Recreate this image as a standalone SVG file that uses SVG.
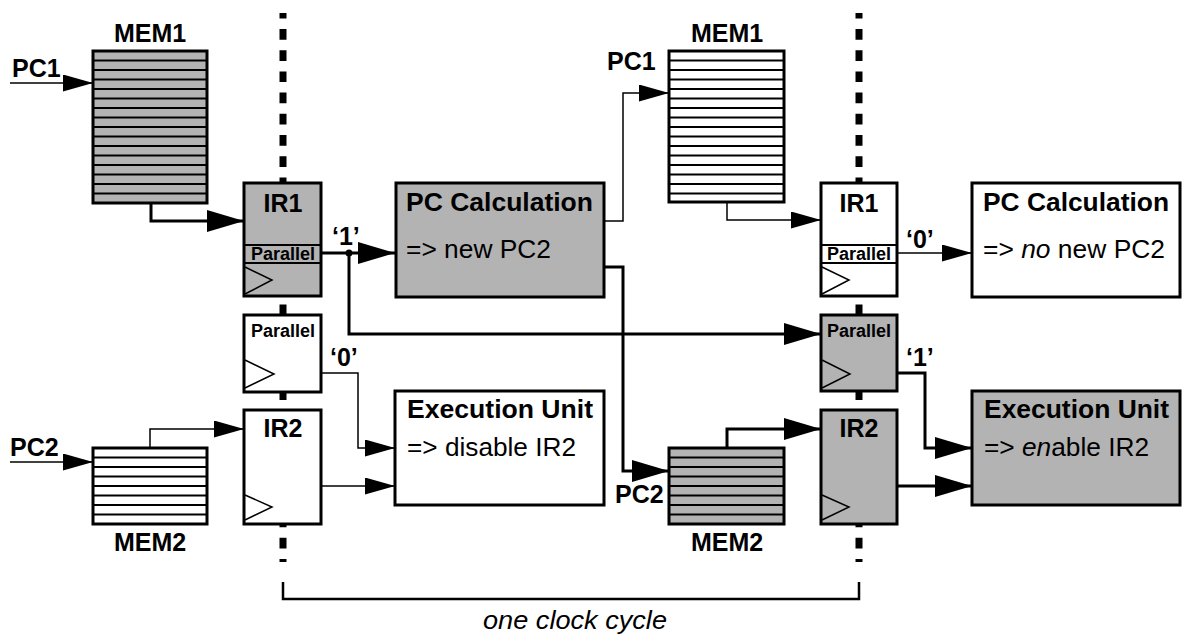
<svg xmlns="http://www.w3.org/2000/svg" width="1182" height="637" viewBox="0 0 1182 637">
<defs>
<style>
.box{stroke:#000;stroke-width:3}
.g{fill:#b3b3b3}
.w{fill:#fff}
.stripe{fill:none;stroke:#000;stroke-width:2}
.clk{fill:none;stroke:#000;stroke-width:1.5}
.sep{stroke:#000;stroke-width:2}
.thin{fill:none;stroke:#000;stroke-width:1.5;marker-end:url(#as)}
.thick{fill:none;stroke:#000;stroke-width:3;marker-end:url(#ab)}
.dots{fill:none;stroke:#000;stroke-width:7;stroke-dasharray:10.7 10.5;stroke-dashoffset:5.2}
.lbl{font-family:"Liberation Sans",Arial,sans-serif;font-weight:bold;font-size:25px;fill:#000}
.par{font-family:"Liberation Sans",Arial,sans-serif;font-weight:bold;font-size:18px;fill:#000}
.txt{font-family:"Liberation Sans",Arial,sans-serif;font-size:25px;fill:#000}
.c{text-anchor:middle}
</style>
<marker id="ab" markerUnits="userSpaceOnUse" markerWidth="37" markerHeight="22" refX="37" refY="11" orient="auto"><path d="M0,0 L37,11 L0,22 z" fill="#000"/></marker>
<marker id="as" markerUnits="userSpaceOnUse" markerWidth="30" markerHeight="17" refX="30" refY="8.5" orient="auto"><path d="M0,0 L30,8.5 L0,17 z" fill="#000"/></marker>
</defs>
<rect width="1182" height="637" fill="#fff"/>

<g id="clock-lines">
<line class="dots" x1="283" y1="13" x2="283" y2="562"/>
<line class="dots" x1="859" y1="13" x2="859" y2="562"/>
<path d="M283,582 V599 H859 V582" fill="none" stroke="#000" stroke-width="2.5"/>
<text class="txt" x="483" y="629" font-style="italic" textLength="184" lengthAdjust="spacingAndGlyphs">one clock cycle</text>
</g>

<g id="connectors">
<path class="thin" d="M10,83 H93"/>
<path class="thick" d="M151,203 V221 H244"/>
<path class="thick" d="M321,253 H395"/>
<path class="thick" d="M349,253 V334 H821"/>
<circle cx="349" cy="253" r="3.5" fill="#000"/>
<path class="thin" d="M604,221 H623 V93 H669"/>
<path class="thick" d="M604,267 H623 V471 H669"/>
<path class="thin" d="M727,202 V220 H821"/>
<path class="thin" d="M897,253 H972"/>
<path class="thin" d="M10,462 H93"/>
<path class="thin" d="M150,448 V429 H244"/>
<path class="thin" d="M321,373 H358 V448 H395"/>
<path class="thin" d="M321,486 H395"/>
<path class="thick" d="M727,448 V429 H821"/>
<path class="thick" d="M897,373 H925 V448 H972"/>
<path class="thick" d="M897,486 H972"/>
<text class="lbl" x="332" y="245">‘1’</text>
<text class="lbl" x="906" y="248">‘0’</text>
<text class="lbl" x="330" y="366">‘0’</text>
<text class="lbl" x="906" y="366">‘1’</text>
<text class="lbl" x="12" y="77">PC1</text>
<text class="lbl" x="607" y="70">PC1</text>
<text class="lbl" x="10" y="456">PC2</text>
<text class="lbl" x="615" y="503">PC2</text>
</g>

<g id="mem1-left">
<rect class="box g" x="93" y="51" width="114" height="152"/>
<path class="stripe" d="M93,60.5H207M93,70H207M93,79.5H207M93,89H207M93,98.5H207M93,108H207M93,117.5H207M93,127H207M93,136.5H207M93,146H207M93,155.5H207M93,165H207M93,174.5H207M93,184H207M93,193.5H207"/>
<text class="lbl c" x="150" y="42">MEM1</text>
</g>

<g id="mem1-right">
<rect class="box w" x="669" y="51" width="115" height="151"/>
<path class="stripe" d="M669,60.5H784M669,70H784M669,79.5H784M669,89H784M669,98.5H784M669,108H784M669,117.5H784M669,127H784M669,136.5H784M669,146H784M669,155.5H784M669,165H784M669,174.5H784M669,184H784M669,193.5H784"/>
<text class="lbl c" x="727" y="42">MEM1</text>
</g>

<g id="ir1-left">
<rect class="box g" x="244" y="183" width="77" height="113"/>
<line class="sep" x1="244" y1="245" x2="321" y2="245"/>
<line class="sep" x1="244" y1="263" x2="321" y2="263"/>
<text class="lbl c" x="283" y="212">IR1</text>
<text class="par c" x="283" y="260">Parallel</text>
<polyline class="clk" points="245,267 272,280 245,294"/>
</g>

<g id="ir1-right">
<rect class="box w" x="821" y="183" width="76" height="113"/>
<line class="sep" x1="821" y1="245" x2="897" y2="245"/>
<line class="sep" x1="821" y1="263" x2="897" y2="263"/>
<text class="lbl c" x="859" y="212">IR1</text>
<text class="par c" x="859" y="260">Parallel</text>
<polyline class="clk" points="822,267 849,280 822,294"/>
</g>

<g id="pccalc-left">
<rect class="box g" x="396" y="183" width="208" height="114"/>
<text class="lbl" x="406" y="211" textLength="187" lengthAdjust="spacingAndGlyphs">PC Calculation</text>
<text class="txt" x="406" y="258" textLength="145" lengthAdjust="spacingAndGlyphs">=&gt; new PC2</text>
</g>

<g id="pccalc-right">
<rect class="box w" x="972" y="183" width="208" height="114"/>
<text class="lbl" x="983" y="211" textLength="186" lengthAdjust="spacingAndGlyphs">PC Calculation</text>
<text class="txt" x="983" y="258" textLength="182" lengthAdjust="spacingAndGlyphs">=&gt; <tspan font-style="italic">no</tspan> new PC2</text>
</g>

<g id="parallel-left">
<rect class="box w" x="244" y="315" width="77" height="77"/>
<text class="par c" x="283" y="337">Parallel</text>
<polyline class="clk" points="245,360 274,374 245,388"/>
</g>

<g id="parallel-right">
<rect class="box g" x="821" y="315" width="76" height="76"/>
<text class="par c" x="859" y="337">Parallel</text>
<polyline class="clk" points="822,360 850,374 822,388"/>
</g>

<g id="ir2-left">
<rect class="box w" x="244" y="410" width="77" height="114"/>
<text class="lbl c" x="283" y="437">IR2</text>
<polyline class="clk" points="245,495 272,507 245,520"/>
</g>

<g id="ir2-right">
<rect class="box g" x="821" y="410" width="76" height="114"/>
<text class="lbl c" x="859" y="437">IR2</text>
<polyline class="clk" points="822,495 849,507 822,520"/>
</g>

<g id="mem2-left">
<rect class="box w" x="93" y="448" width="114" height="76"/>
<path class="stripe" d="M93,457.5H207M93,467H207M93,476.5H207M93,486H207M93,495.5H207M93,505H207M93,514.5H207"/>
<text class="lbl c" x="150" y="551">MEM2</text>
</g>

<g id="mem2-right">
<rect class="box g" x="669" y="448" width="115" height="76"/>
<path class="stripe" d="M669,457.5H784M669,467H784M669,476.5H784M669,486H784M669,495.5H784M669,505H784M669,514.5H784"/>
<text class="lbl c" x="727" y="551">MEM2</text>
</g>

<g id="exec-left">
<rect class="box w" x="395" y="391" width="209" height="114"/>
<text class="lbl" x="407" y="418" textLength="186" lengthAdjust="spacingAndGlyphs">Execution Unit</text>
<text class="txt" x="407" y="456" textLength="169" lengthAdjust="spacingAndGlyphs">=&gt; disable IR2</text>
</g>

<g id="exec-right">
<rect class="box g" x="972" y="391" width="208" height="114"/>
<text class="lbl" x="984" y="418" textLength="185" lengthAdjust="spacingAndGlyphs">Execution Unit</text>
<text class="txt" x="984" y="456" textLength="165" lengthAdjust="spacingAndGlyphs">=&gt; <tspan font-style="italic">en</tspan>able IR2</text>
</g>
</svg>
